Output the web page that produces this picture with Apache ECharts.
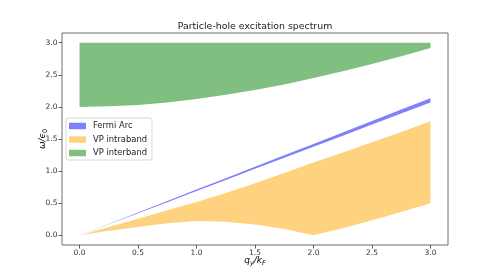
<!DOCTYPE html>
<html>
<head>
<meta charset="utf-8">
<script src="https://cdn.jsdelivr.net/npm/echarts@6/dist/echarts.min.js"></script>
<style>html,body{margin:0;padding:0;background:#fff}#c{width:498px;height:280px}</style>
</head>
<body>
<div id="c"></div>
<script>
// Data
const q = [0, 0.25, 0.5, 0.75, 1.0, 1.25, 1.5, 1.75, 2.0, 2.25, 2.5, 2.75, 3.0];
const arcLower = [0, 0.172, 0.345, 0.517, 0.69, 0.862, 1.035, 1.207, 1.38, 1.552, 1.725, 1.897, 2.07];
const arcUpper = [0, 0.178, 0.356, 0.534, 0.712, 0.89, 1.068, 1.246, 1.424, 1.602, 1.78, 1.958, 2.136];
const intraLower = [0, 0.07, 0.13, 0.19, 0.225, 0.21, 0.17, 0.1, 0, 0.11, 0.235, 0.365, 0.5];
const intraUpper = [0, 0.13, 0.26, 0.39, 0.52, 0.66, 0.81, 0.97, 1.135, 1.29, 1.45, 1.61, 1.775];
const interLower = [2.0, 2.008, 2.031, 2.07, 2.121, 2.19, 2.264, 2.35, 2.449, 2.555, 2.669, 2.79, 2.915];
const interUpper = [3.0, 3.0, 3.0, 3.0, 3.0, 3.0, 3.0, 3.0, 3.0, 3.0, 3.0, 3.0, 3.0];
const xTicks = [0, 0.5, 1.0, 1.5, 2.0, 2.5, 3.0];
const yTicks = [0, 0.5, 1.0, 1.5, 2.0, 2.5, 3.0];
const names = ['Fermi Arc', 'VP intraband', 'VP interband'];
const colors = ['#8080ff', '#ffd280', '#80bf80'];

const FONT = 'DejaVu Sans';
function band(name, lower, upper, color) {
  return {
    name: name, type: 'custom', coordinateSystem: 'cartesian2d',
    data: q.map((x, i) => [x, lower[i], upper[i]]),
    encode: { x: 0, y: [1, 2] },
    itemStyle: { color: color },
    silent: true, z: 2,
    renderItem: function (params, api) {
      if (params.dataIndex !== 0) return null;
      const pts = [];
      for (let i = 0; i < q.length; i++) pts.push(api.coord([q[i], upper[i]]));
      for (let i = q.length - 1; i >= 0; i--) pts.push(api.coord([q[i], lower[i]]));
      return { type: 'polygon', shape: { points: pts }, style: { fill: color, stroke: null } };
    }
  };
}
const series = [
  band(names[0], arcLower, arcUpper, colors[0]),
  band(names[1], intraLower, intraUpper, colors[1]),
  band(names[2], interLower, interUpper, colors[2])
];

const chart = echarts.init(document.getElementById('c'), null, { renderer: 'canvas' });
chart.setOption({
  animation: false,
  backgroundColor: '#fff',
  textStyle: { fontFamily: FONT },
  grid: { left: 62, right: 50, top: 33, bottom: 35, show: true, borderColor: '#6e6e6e', borderWidth: 1, backgroundColor: '#fff', z: 0 },
  xAxis: {
    type: 'value', min: -0.15, max: 3.15,
    axisLine: { show: false, onZero: false },
    splitLine: { show: false },
    axisTick: { show: true, customValues: xTicks, length: 3.5, lineStyle: { color: '#333', width: 0.8 } },
    axisLabel: { customValues: xTicks, formatter: v => v.toFixed(1), fontSize: 7.5, color: '#333', margin: 4, fontFamily: FONT }
  },
  yAxis: {
    type: 'value', min: -0.15, max: 3.15,
    axisLine: { show: false, onZero: false },
    splitLine: { show: false },
    axisTick: { show: true, customValues: yTicks, length: 3.5, lineStyle: { color: '#333', width: 0.8 } },
    axisLabel: { customValues: yTicks, formatter: v => v.toFixed(1), fontSize: 7.5, color: '#333', margin: 4.5, fontFamily: FONT }
  },
  legend: {
    data: names, left: 66, top: 118, orient: 'vertical',
    itemWidth: 17, itemHeight: 6.5, itemGap: 5.5, icon: 'rect',
    backgroundColor: 'rgba(255,255,255,0.8)', borderColor: '#d8d8d8', borderWidth: 1, borderRadius: 2,
    padding: [4, 5, 3, 3],
    textStyle: { fontSize: 8.4, color: '#222', fontFamily: FONT, padding: [0, 0, 0, 2] }
  },
  graphic: [
    { type: 'text', x: 255, y: 27, style: { text: 'Particle-hole excitation spectrum', font: '9.4px "DejaVu Sans"', fill: '#222', textAlign: 'center', textVerticalAlign: 'middle' } },
    { type: 'text', x: 255, y: 261, style: {
        text: '{i|q}{s|y}{i|/k}{s|F}', textAlign: 'center', textVerticalAlign: 'middle',
        rich: { i: { fontStyle: 'italic', fontSize: 9, fontFamily: FONT, color: '#222' },
                s: { fontStyle: 'italic', fontSize: 6.5, fontFamily: FONT, color: '#222', padding: [5, 0, 0, 0] } } } },
    { type: 'text', x: 43, y: 139, rotation: Math.PI / 2, style: {
        text: '{i|ω/ϵ}{s|0}', textAlign: 'center', textVerticalAlign: 'middle',
        rich: { i: { fontStyle: 'italic', fontSize: 9, fontFamily: FONT, color: '#222' },
                s: { fontSize: 6.5, fontFamily: FONT, color: '#222', padding: [5, 0, 0, 0] } } } }
  ],
  series: series
});
</script>
</body>
</html>
